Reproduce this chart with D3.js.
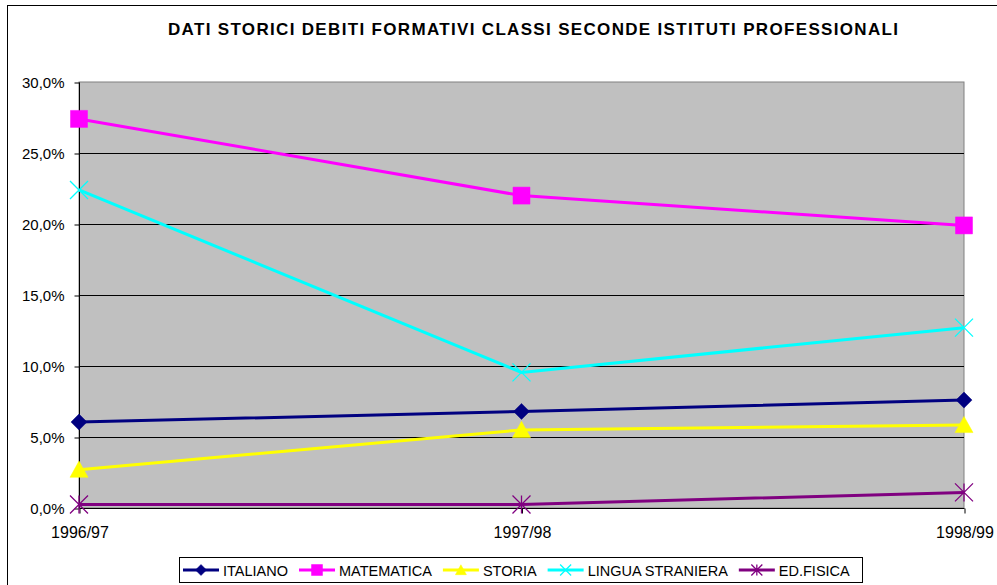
<!DOCTYPE html>
<html>
<head>
<meta charset="utf-8">
<script src="https://cdn.jsdelivr.net/npm/d3@7"></script>
<style>
  body { margin: 0; background: #fff; }
  svg { display: block; font-family: Arial, "Liberation Sans", sans-serif; }
</style>
</head>
<body>
<script>
// values (percent)
var years = ["1996/97", "1997/98", "1998/99"];
var italiano = [6.05, 6.8, 7.6];
var matematica = [27.4, 22.0, 19.9];
var storia = [2.7, 5.5, 5.85];
var lingua = [22.4, 9.55, 12.7];
var edfisica = [0.25, 0.25, 1.1];
var yTicks = [0, 5, 10, 15, 20, 25, 30];

var seriesNames = ["ITALIANO", "MATEMATICA", "STORIA", "LINGUA STRANIERA", "ED.FISICA"];
var seriesColors = ["#000080", "#FF00FF", "#FFFF00", "#00FFFF", "#800080"];
var seriesMarkers = ["diamond", "square", "triangle", "x", "star"];

var series = [italiano, matematica, storia, lingua, edfisica].map(function (v, i) {
  return { name: seriesNames[i], values: v, color: seriesColors[i], marker: seriesMarkers[i] };
});

var w = 997;
var h = 585;
var svg = d3.select("body").append("svg").attr("width", w).attr("height", h);

// chart area border
svg.append("rect")
  .attr("x", 7.5).attr("y", 5.5)
  .attr("width", 1000).attr("height", 600)
  .attr("fill", "#fff").attr("stroke", "#000").attr("stroke-width", 1);

svg.append("text")
  .attr("x", 533).attr("y", 35)
  .attr("text-anchor", "middle")
  .attr("font-size", 17).attr("font-weight", "bold")
  .attr("textLength", 730).attr("lengthAdjust", "spacing")
  .attr("fill", "#000")
  .text("DATI STORICI DEBITI FORMATIVI CLASSI SECONDE ISTITUTI PROFESSIONALI");

var x = d3.scalePoint().domain(years).range([79, 964]);
var y = d3.scaleLinear().domain([0, 30]).range([508, 82]);

// plot area
svg.append("rect")
  .attr("x", x.range()[0]).attr("y", y(30))
  .attr("width", x.range()[1] - x.range()[0]).attr("height", y(0) - y(30))
  .attr("fill", "#C0C0C0").attr("stroke", "#808080").attr("stroke-width", 1);

// gridlines
svg.append("g").selectAll("line")
  .data(yTicks.filter(function (d) { return d > 0 && d < 30; }))
  .enter().append("line")
  .attr("x1", x.range()[0]).attr("x2", x.range()[1])
  .attr("y1", function (d) { return Math.round(y(d)) + 0.5; })
  .attr("y2", function (d) { return Math.round(y(d)) + 0.5; })
  .attr("stroke", "#000").attr("stroke-width", 1);

// y axis
var yAxis = d3.axisLeft(y).tickValues(yTicks).tickSize(5).tickPadding(10)
  .tickFormat(function (d) { return d3.format(".1f")(d).replace(".", ",") + "%"; });
var gy = svg.append("g").attr("transform", "translate(79.5,0.5)").call(yAxis);
gy.select(".domain").remove();
gy.append("line").attr("x1", 0).attr("x2", 0).attr("y1", y(30)).attr("y2", y(0)).attr("stroke", "#000");
gy.selectAll(".tick line").attr("stroke", "#000");
gy.selectAll(".tick text").attr("font-size", 15).attr("fill", "#000").attr("font-family", "Arial, 'Liberation Sans', sans-serif");

// x axis
var xAxis = d3.axisBottom(x).tickSize(5).tickPadding(13);
var gx = svg.append("g").attr("transform", "translate(0.5," + (y(0) + 0.5) + ")").call(xAxis);
gx.select(".domain").remove();
gx.append("line").attr("x1", x.range()[0]).attr("x2", x.range()[1]).attr("y1", 0).attr("y2", 0).attr("stroke", "#000");
gx.selectAll(".tick line").attr("stroke", "#000");
gx.selectAll(".tick text").attr("font-size", 16).attr("fill", "#000").attr("font-family", "Arial, 'Liberation Sans', sans-serif");

function markerPath(type, s) {
  // s = half size
  if (type === "diamond") return "M0," + -s + "L" + s + ",0L0," + s + "L" + -s + ",0Z";
  if (type === "square") return "M" + -s + "," + -s + "H" + s + "V" + s + "H" + -s + "Z";
  if (type === "triangle") return "M0," + (-s * 0.95) + "L" + s + "," + (s * 0.85) + "L" + -s + "," + (s * 0.85) + "Z";
  if (type === "x") return "M" + -s + "," + -s + "L" + s + "," + s + "M" + -s + "," + s + "L" + s + "," + -s;
  return "M" + -s + "," + -s + "L" + s + "," + s + "M" + -s + "," + s + "L" + s + "," + -s + "M0," + -s + "V" + s;
}
function drawMarker(g, d, s) {
  var open = d.marker === "x" || d.marker === "star";
  g.append("path")
    .attr("d", markerPath(d.marker, s))
    .attr("fill", open ? "none" : d.color)
    .attr("stroke", d.color)
    .attr("stroke-width", open ? 1.3 : 0.5);
}

var line = d3.line()
  .x(function (d, i) { return x(years[i]); })
  .y(function (d) { return y(d); });

var gs = svg.append("g").selectAll("g").data(series).enter().append("g");
gs.append("path")
  .attr("d", function (d) { return line(d.values); })
  .attr("fill", "none")
  .attr("stroke", function (d) { return d.color; })
  .attr("stroke-width", 3);
gs.each(function (d) {
  var g = d3.select(this);
  d.values.forEach(function (v, i) {
    var mg = g.append("g").attr("transform", "translate(" + x(years[i]) + "," + y(v) + ")");
    var s = d.marker === "square" ? 8.5 : d.marker === "diamond" ? 8 : 9;
    drawMarker(mg, d, s);
  });
});

// legend
var legend = svg.append("g");
legend.append("rect")
  .attr("x", 179.5).attr("y", 557.5)
  .attr("width", 683).attr("height", 25)
  .attr("fill", "#fff").attr("stroke", "#000").attr("stroke-width", 1);
var lx = 183;
series.forEach(function (d) {
  var it = legend.append("g").attr("transform", "translate(" + lx + ",570)");
  it.append("line").attr("x1", 0).attr("x2", 36).attr("stroke", d.color).attr("stroke-width", 3);
  var mg = it.append("g").attr("transform", "translate(18,0)");
  drawMarker(mg, d, 5.5);
  var t = it.append("text").attr("x", 40).attr("y", 5.5)
    .attr("font-size", 14.5).attr("fill", "#000")
    .text(d.name);
  lx += 40 + t.node().getComputedTextLength() + 11;
});
</script>
</body>
</html>
